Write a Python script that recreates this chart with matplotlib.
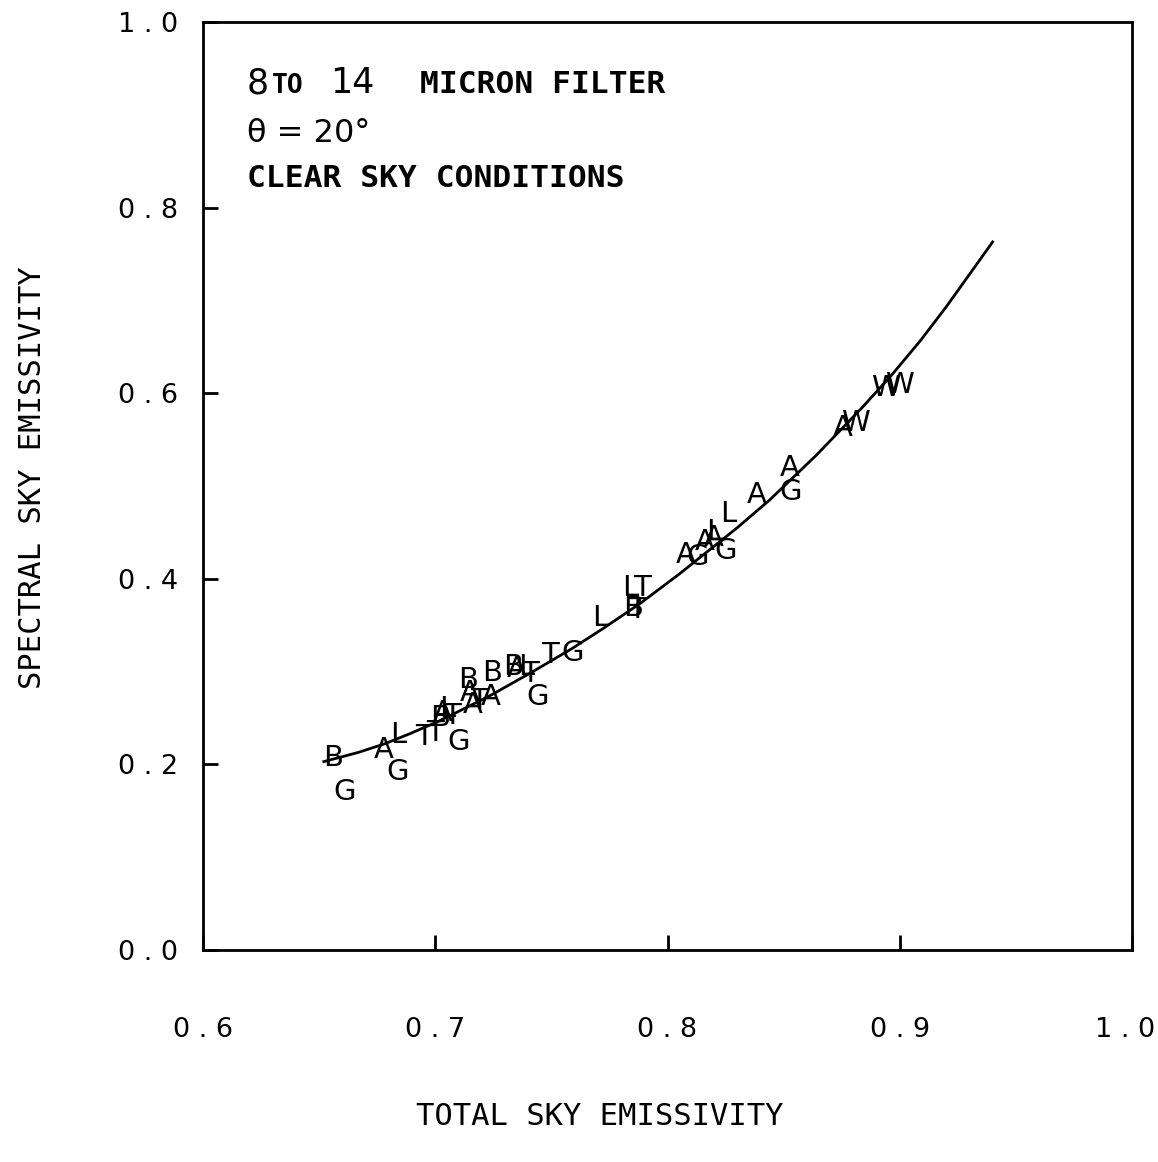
import matplotlib
matplotlib.use('Agg')
import matplotlib.pyplot as plt
from matplotlib.transforms import ScaledTranslation

# ---------------- data ----------------
# fitted curve, spectral vs total sky emissivity
CURVE_X = [0.652, 0.667, 0.678, 0.689, 0.701, 0.714, 0.725, 0.742, 0.759, 0.772,
           0.788, 0.805, 0.830, 0.844, 0.864, 0.884, 0.897, 0.909, 0.920, 0.940]
CURVE_Y = [0.203, 0.213, 0.222, 0.233, 0.246, 0.262, 0.276, 0.300, 0.325, 0.346,
           0.373, 0.405, 0.455, 0.485, 0.533, 0.585, 0.621, 0.657, 0.693, 0.763]

# station observations, plotted as letters
OBS_X = [0.656, 0.661, 0.678, 0.684, 0.684, 0.695, 0.700, 0.710, 0.703, 0.705,
         0.707, 0.702, 0.716, 0.719, 0.714, 0.715, 0.7245, 0.724, 0.7335, 0.739,
         0.735, 0.741, 0.7495, 0.759, 0.744, 0.771, 0.784, 0.789, 0.785, 0.787,
         0.808, 0.813, 0.816, 0.820, 0.826, 0.820, 0.825, 0.8385, 0.8527, 0.853,
         0.8755, 0.881, 0.894, 0.900]
OBS_Y = [0.207, 0.170, 0.216, 0.232, 0.192, 0.230, 0.234, 0.224, 0.255, 0.260,
         0.252, 0.250, 0.264, 0.268, 0.291, 0.277, 0.2985, 0.273, 0.305, 0.305,
         0.303, 0.297, 0.318, 0.320, 0.273, 0.358, 0.390, 0.390, 0.369, 0.366,
         0.4256, 0.4235, 0.440, 0.444, 0.470, 0.450, 0.430, 0.490, 0.519, 0.4935,
         0.5625, 0.568, 0.606, 0.609]
OBS_LABEL = ['B', 'G', 'A', 'L', 'G', 'T', 'T', 'G', 'A', 'L',
             'T', 'B', 'A', 'T', 'B', 'A', 'B', 'A', 'B', 'L',
             'A', 'T', 'T', 'G', 'G', 'L', 'L', 'T', 'B', 'T',
             'A', 'G', 'A', 'A', 'L', 'L', 'G', 'A', 'A', 'G',
             'A', 'W', 'W', 'W']

X_TICKS = [0.6, 0.7, 0.8, 0.9, 1.0]
Y_TICKS = [0.0, 0.2, 0.4, 0.6, 0.8, 1.0]

MONO = 'DejaVu Sans Mono'
SANS = 'DejaVu Sans'


def spaced(v):
    # plotter style tick label: "0 . 6"
    return ' . '.join(f'{v:.1f}'.split('.'))


fig = plt.figure(figsize=(11.58, 11.62), dpi=100)
ax = fig.add_axes([203 / 1158, 1 - 950 / 1162, 929 / 1158, 928 / 1162])

ax.plot(CURVE_X, CURVE_Y, color='black', lw=2.0)

for x, y, s in zip(OBS_X, OBS_Y, OBS_LABEL):
    ax.text(x, y, s, ha='center', va='center', fontsize=21, color='black',
            family=SANS)

ax.set_xlim(0.6, 1.0)
ax.set_ylim(0.0, 1.0)
ax.set_xticks(X_TICKS)
ax.set_yticks(Y_TICKS)
ax.set_xticklabels([spaced(v) for v in X_TICKS], family=SANS, fontsize=19.5)
ax.set_yticklabels([spaced(v) for v in Y_TICKS], family=SANS, fontsize=19.5)
ax.tick_params(axis='x', direction='in', length=11, width=2, pad=48)
ax.tick_params(axis='y', direction='in', length=11, width=2, pad=18)
for sp in ax.spines.values():
    sp.set_linewidth(2)

# keep the last x label inside the figure
last = ax.get_xticklabels()[-1]
last.set_transform(last.get_transform() + ScaledTranslation(-0.07, 0, fig.dpi_scale_trans))

ax.set_xlabel('TOTAL SKY EMISSIVITY', family=MONO, fontsize=22)
ax.set_ylabel('SPECTRAL SKY EMISSIVITY', family=MONO, fontsize=22)
ax.xaxis.set_label_coords(0.427, -0.164)
ax.yaxis.set_label_coords(-0.168, 0.5086)

# header block inside the plot
H = 1162
W = 1158
fig.text(247 / W, 1 - 93 / H, '8', family=SANS, fontsize=25, va='baseline')
fig.text(272 / W, 1 - 93 / H, 'TO', family=MONO, fontsize=19, weight='bold', va='baseline')
fig.text(330 / W, 1 - 93 / H, '14', family=SANS, fontsize=25, va='baseline')
fig.text(420 / W, 1 - 93 / H, 'MICRON FILTER', family=MONO, fontsize=22.5,
         weight='bold', va='baseline')
fig.text(247 / W, 1 - 142 / H, 'θ = 20°', family=SANS, fontsize=23, va='baseline')
fig.text(247 / W, 1 - 187 / H, 'CLEAR SKY CONDITIONS', family=MONO, fontsize=22.5,
         weight='bold', va='baseline')

fig.savefig('out.png', dpi=100)
